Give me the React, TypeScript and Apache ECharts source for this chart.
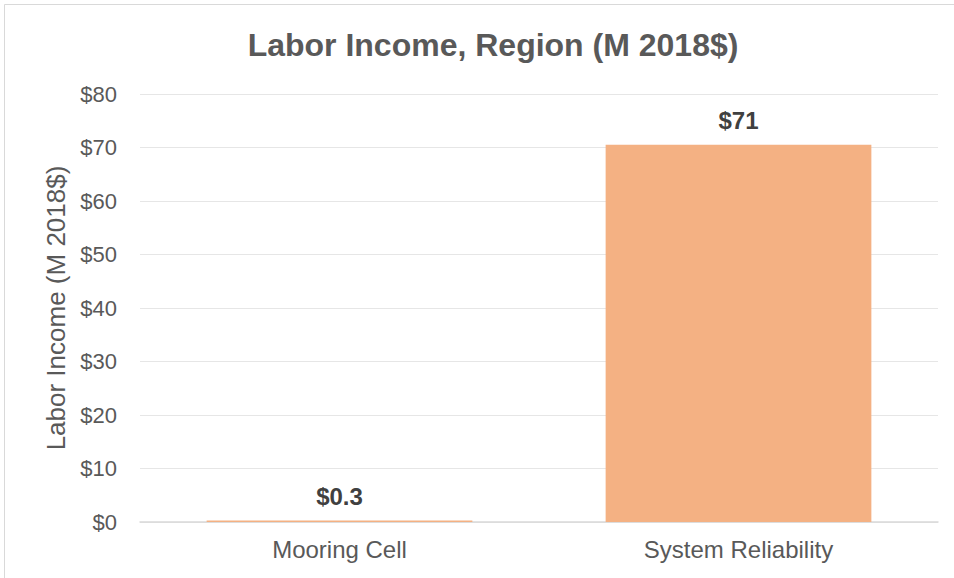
import React, { useEffect, useRef } from "react";
import * as echarts from "echarts";

const categories = ["Mooring Cell", "System Reliability"];
const values = [0.3, 70.5];
const valueLabels = ["$0.3", "$71"];
const titleText = "Labor Income, Region (M 2018$)";
const yAxisName = "Labor Income (M 2018$)";

export default function App() {
  const ref = useRef<HTMLDivElement>(null);
  useEffect(() => {
    document.body.style.margin = "0";
    const chart = echarts.init(ref.current!, null, { renderer: "svg" });
    chart.setOption({
      animation: false,
      backgroundColor: "#ffffff",
      textStyle: { fontFamily: "Liberation Sans, Arial, sans-serif" },
      title: {
        text: titleText,
        left: 488,
        top: 24,
        textAlign: "center",
        textStyle: { fontSize: 32, fontWeight: "bold", color: "#595959", fontFamily: "Liberation Sans, Arial, sans-serif" },
      },
      graphic: [
        {
          type: "rect",
          shape: { x: 4.5, y: 4.5, width: 1000, height: 1000 },
          style: { fill: "none", stroke: "#d9d9d9", lineWidth: 1 },
          silent: true,
        },
      ],
      grid: { left: 140, right: 16, top: 94, bottom: 56, containLabel: false },
      xAxis: {
        type: "category",
        data: categories,
        axisLine: { lineStyle: { color: "#d9d9d9", width: 1.5 } },
        axisTick: { show: false },
        axisLabel: { color: "#595959", fontSize: 24, margin: 15 },
      },
      yAxis: {
        type: "value",
        min: 0,
        max: 80,
        interval: 10,
        name: yAxisName,
        nameLocation: "middle",
        nameGap: 70,
        nameTextStyle: { color: "#595959", fontSize: 26 },
        axisLine: { show: false },
        axisTick: { show: false },
        axisLabel: { color: "#595959", fontSize: 22, margin: 23, formatter: (v: number) => "$" + v },
        splitLine: { lineStyle: { color: "#e6e6e6", width: 1 } },
      },
      series: [
        {
          type: "bar",
          data: values,
          barCategoryGap: "33.4%",
          itemStyle: { color: "#f4b183" },
          label: {
            show: true,
            position: "top",
            distance: 12,
            color: "#404040",
            fontSize: 24,
            fontWeight: "bold",
            formatter: (p: any) => valueLabels[p.dataIndex],
          },
        },
      ],
    });
    return () => chart.dispose();
  }, []);
  return <div ref={ref} style={{ width: 954, height: 578 }} />;
}
